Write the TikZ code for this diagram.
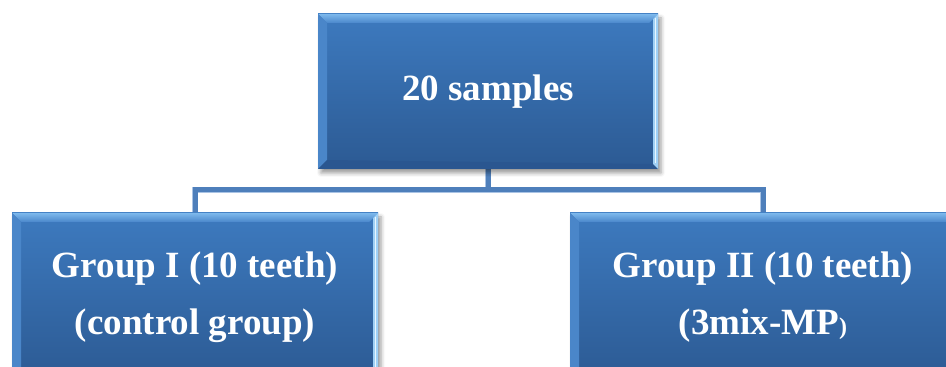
\documentclass[tikz,border=0pt]{standalone}
\usepackage{fontspec}
\setmainfont{Liberation Serif}
\usetikzlibrary{shadows.blur,backgrounds,calc}

\definecolor{facetop}{HTML}{3D7ABF}
\definecolor{facebot}{HTML}{2C5A93}
\definecolor{bevtopa}{HTML}{7DB8EC}
\definecolor{bevtopb}{HTML}{4A87CB}
\definecolor{bevleft}{HTML}{4A86C9}
\definecolor{bevright}{HTML}{9FD0F6}
\definecolor{bevbot}{HTML}{2A5690}
\definecolor{edgelight}{HTML}{E8F6FF}
\definecolor{connblue}{HTML}{4E7FBB}
\definecolor{connedge}{HTML}{A9C3E4}

\tikzset{
  % beveled blue box with a soft drop shadow
  bevelbox/.style={
    minimum width=#1, inner sep=0pt, outer sep=0pt,
    top color=facetop, bottom color=facebot, draw=none,
    text=white, align=center,
    font=\fontsize{37}{57}\selectfont\bfseries,
    blur shadow={shadow xshift=3pt, shadow yshift=-4pt,
                 shadow blur radius=4pt, shadow opacity=40},
    path picture={
      \coordinate (pnw) at (path picture bounding box.north west);
      \coordinate (pne) at (path picture bounding box.north east);
      \coordinate (psw) at (path picture bounding box.south west);
      \coordinate (pse) at (path picture bounding box.south east);
      \shade[top color=bevtopa, bottom color=bevtopb]
        (pnw) -- (pne) -- ($(pne)+(-9,-9)$) -- ($(pnw)+(9,-9)$) -- cycle;
      \fill[bevleft] (pnw) -- ($(pnw)+(9,-9)$) -- ($(psw)+(9,9)$) -- (psw) -- cycle;
      \fill[bevbot] (psw) -- (pse) -- ($(pse)+(-5,5)$) -- ($(psw)+(9,9)$) -- cycle;
      \fill[bevright] (pne) -- (pse) -- ($(pse)+(-5,5)$) -- ($(pne)+(-5,-5)$) -- cycle;
      \draw[edgelight, line width=1.5pt] ($(pne)+(-2.5,-4)$) -- ($(pse)+(-2.5,6)$);
    }
  },
  connector/.style={connblue, line width=5pt, line cap=butt, line join=miter},
  connectorrim/.style={connedge, line width=6.5pt, line cap=butt, line join=miter}
}

\begin{document}
\begin{tikzpicture}[x=1pt,y=1pt]
  \useasboundingbox (0,0) rectangle (946,367);
  \clip (0,0) rectangle (946,367);

  \node[bevelbox=340, minimum height=155] (top) at (488,275.5) {20 samples};
  \node[bevelbox=366, minimum height=168] (left) at (195,70)
    {Group I (10 teeth)\\(control group)};
  \node[bevelbox=386, minimum height=168] (right) at (763,70)
    {Group II (10 teeth)\\(3mix-MP{\fontsize{24}{24}\selectfont)}};

  \coordinate (joint) at (top.south |- 0,177);

  \begin{scope}[on background layer]
    \draw[connectorrim] (top.south) -- (joint);
    \draw[connectorrim] (left.north) |- (joint) -| (right.north);
    \draw[connector] (top.south) -- (joint);
    \draw[connector] (left.north) |- (joint) -| (right.north);
  \end{scope}
\end{tikzpicture}
\end{document}
